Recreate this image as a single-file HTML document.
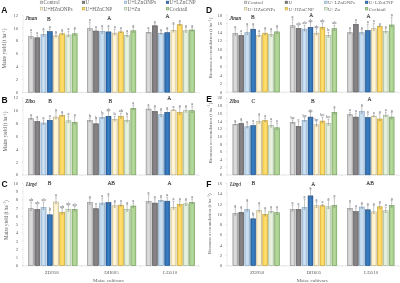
<!DOCTYPE html>
<html><head><meta charset="utf-8"><title>Figure</title>
<style>html,body{margin:0;padding:0;background:#fff;}body{width:400px;height:283px;overflow:hidden;font-family:"Liberation Serif",serif;}svg{display:block;will-change:transform;opacity:0.999}</style>
</head><body>
<svg width="400" height="283" viewBox="0 0 400 283">
<defs>
<linearGradient id="g0" x1="0" x2="1" y1="0" y2="0"><stop offset="0" stop-color="#c6c6c6"/><stop offset="0.5" stop-color="#dfdfdf"/><stop offset="1" stop-color="#c6c6c6"/></linearGradient>
<linearGradient id="g1" x1="0" x2="1" y1="0" y2="0"><stop offset="0" stop-color="#777577"/><stop offset="0.5" stop-color="#8a868a"/><stop offset="1" stop-color="#777577"/></linearGradient>
<linearGradient id="g2" x1="0" x2="1" y1="0" y2="0"><stop offset="0" stop-color="#b4d0e8"/><stop offset="0.5" stop-color="#cde2f2"/><stop offset="1" stop-color="#b4d0e8"/></linearGradient>
<linearGradient id="g3" x1="0" x2="1" y1="0" y2="0"><stop offset="0" stop-color="#2566ab"/><stop offset="0.5" stop-color="#3a80c4"/><stop offset="1" stop-color="#2566ab"/></linearGradient>
<linearGradient id="g4" x1="0" x2="1" y1="0" y2="0"><stop offset="0" stop-color="#fbecc0"/><stop offset="0.5" stop-color="#fff6dc"/><stop offset="1" stop-color="#fbecc0"/></linearGradient>
<linearGradient id="g5" x1="0" x2="1" y1="0" y2="0"><stop offset="0" stop-color="#fad04a"/><stop offset="0.5" stop-color="#ffdf74"/><stop offset="1" stop-color="#fad04a"/></linearGradient>
<linearGradient id="g6" x1="0" x2="1" y1="0" y2="0"><stop offset="0" stop-color="#d9e9cd"/><stop offset="0.5" stop-color="#eaf3e3"/><stop offset="1" stop-color="#d9e9cd"/></linearGradient>
<linearGradient id="g7" x1="0" x2="1" y1="0" y2="0"><stop offset="0" stop-color="#9fcb82"/><stop offset="0.5" stop-color="#b8d9a0"/><stop offset="1" stop-color="#9fcb82"/></linearGradient>
</defs>
<rect width="400" height="283" fill="#ffffff"/>
<line x1="23.0" y1="15.0" x2="23.0" y2="92.2" stroke="#d9d9d9" stroke-width="0.5"/>
<line x1="23.0" y1="92.4" x2="199.0" y2="92.4" stroke="#d4d4d4" stroke-width="0.6"/>
<line x1="23.00" y1="92.2" x2="23.00" y2="93.60000000000001" stroke="#d4d4d4" stroke-width="0.5"/>
<line x1="81.67" y1="92.2" x2="81.67" y2="93.60000000000001" stroke="#d4d4d4" stroke-width="0.5"/>
<line x1="140.33" y1="92.2" x2="140.33" y2="93.60000000000001" stroke="#d4d4d4" stroke-width="0.5"/>
<line x1="199.00" y1="92.2" x2="199.00" y2="93.60000000000001" stroke="#d4d4d4" stroke-width="0.5"/>
<line x1="21.7" y1="92.20" x2="23.0" y2="92.20" stroke="#cfcfcf" stroke-width="0.5"/>
<text x="18.2" y="93.85" text-anchor="end" font-size="4.8" fill="#636363" font-family="Liberation Serif, serif">0</text>
<line x1="21.7" y1="79.33" x2="23.0" y2="79.33" stroke="#cfcfcf" stroke-width="0.5"/>
<text x="18.2" y="80.98" text-anchor="end" font-size="4.8" fill="#636363" font-family="Liberation Serif, serif">2</text>
<line x1="21.7" y1="66.47" x2="23.0" y2="66.47" stroke="#cfcfcf" stroke-width="0.5"/>
<text x="18.2" y="68.12" text-anchor="end" font-size="4.8" fill="#636363" font-family="Liberation Serif, serif">4</text>
<line x1="21.7" y1="53.60" x2="23.0" y2="53.60" stroke="#cfcfcf" stroke-width="0.5"/>
<text x="18.2" y="55.25" text-anchor="end" font-size="4.8" fill="#636363" font-family="Liberation Serif, serif">6</text>
<line x1="21.7" y1="40.73" x2="23.0" y2="40.73" stroke="#cfcfcf" stroke-width="0.5"/>
<text x="18.2" y="42.38" text-anchor="end" font-size="4.8" fill="#636363" font-family="Liberation Serif, serif">8</text>
<line x1="21.7" y1="27.87" x2="23.0" y2="27.87" stroke="#cfcfcf" stroke-width="0.5"/>
<text x="18.2" y="29.52" text-anchor="end" font-size="4.8" fill="#636363" font-family="Liberation Serif, serif">10</text>
<line x1="21.7" y1="15.00" x2="23.0" y2="15.00" stroke="#cfcfcf" stroke-width="0.5"/>
<text x="18.2" y="16.65" text-anchor="end" font-size="4.8" fill="#636363" font-family="Liberation Serif, serif">12</text>
<text transform="translate(6.00,48.5) rotate(-90)" text-anchor="middle" font-size="5.1" fill="#636363" font-family="Liberation Serif, serif">Maize yield (t ha<tspan dy="-1.3" font-size="3.2">−1</tspan><tspan dy="1.3">)</tspan></text>
<rect x="28.60" y="36.70" width="5.00" height="55.50" fill="url(#g0)" stroke="#8e8e8e" stroke-width="0.6"/>
<path d="M31.10 38.40V32.10M30.10 32.10h2M30.10 38.40h2" stroke="#6e6e6e" stroke-width="0.4" fill="none"/>
<text x="31.10" y="31.20" text-anchor="middle" font-size="4.4" fill="#4a4c5a" font-family="Liberation Serif, serif">a</text>
<rect x="34.82" y="37.80" width="5.00" height="54.40" fill="url(#g1)" stroke="#585658" stroke-width="0.6"/>
<path d="M37.32 38.94V35.10M36.32 35.10h2M36.32 38.94h2" stroke="#6e6e6e" stroke-width="0.4" fill="none"/>
<text x="37.32" y="34.20" text-anchor="middle" font-size="4.4" fill="#4a4c5a" font-family="Liberation Serif, serif">a</text>
<rect x="41.04" y="34.60" width="5.00" height="57.60" fill="url(#g2)" stroke="#7f9fbe" stroke-width="0.6"/>
<path d="M43.54 36.30V30.80M42.54 30.80h2M42.54 36.30h2" stroke="#6e6e6e" stroke-width="0.4" fill="none"/>
<text x="43.54" y="29.90" text-anchor="middle" font-size="4.4" fill="#4a4c5a" font-family="Liberation Serif, serif">a</text>
<rect x="47.26" y="31.60" width="5.00" height="60.60" fill="url(#g3)" stroke="#1f4c84" stroke-width="0.6"/>
<path d="M49.76 32.68V29.00M48.76 29.00h2M48.76 32.68h2" stroke="#6e6e6e" stroke-width="0.4" fill="none"/>
<text x="49.76" y="28.10" text-anchor="middle" font-size="4.4" fill="#4a4c5a" font-family="Liberation Serif, serif">a</text>
<rect x="53.48" y="35.90" width="5.00" height="56.30" fill="url(#g4)" stroke="#b4aa82" stroke-width="0.6"/>
<path d="M55.98 36.86V33.50M54.98 33.50h2M54.98 36.86h2" stroke="#6e6e6e" stroke-width="0.4" fill="none"/>
<text x="55.98" y="32.60" text-anchor="middle" font-size="4.4" fill="#4a4c5a" font-family="Liberation Serif, serif">a</text>
<rect x="59.70" y="33.80" width="5.00" height="58.40" fill="url(#g5)" stroke="#b99b34" stroke-width="0.6"/>
<path d="M62.20 34.70V31.50M61.20 31.50h2M61.20 34.70h2" stroke="#6e6e6e" stroke-width="0.4" fill="none"/>
<text x="62.20" y="30.60" text-anchor="middle" font-size="4.4" fill="#4a4c5a" font-family="Liberation Serif, serif">a</text>
<rect x="65.92" y="35.10" width="5.00" height="57.10" fill="url(#g6)" stroke="#9bb08f" stroke-width="0.6"/>
<path d="M68.42 36.80V31.20M67.42 31.20h2M67.42 36.80h2" stroke="#6e6e6e" stroke-width="0.4" fill="none"/>
<text x="68.42" y="30.30" text-anchor="middle" font-size="4.4" fill="#4a4c5a" font-family="Liberation Serif, serif">a</text>
<rect x="72.14" y="33.80" width="5.00" height="58.40" fill="url(#g7)" stroke="#6f9957" stroke-width="0.6"/>
<path d="M74.64 35.50V29.40M73.64 29.40h2M73.64 35.50h2" stroke="#6e6e6e" stroke-width="0.4" fill="none"/>
<text x="74.64" y="28.50" text-anchor="middle" font-size="4.4" fill="#4a4c5a" font-family="Liberation Serif, serif">a</text>
<rect x="87.30" y="28.70" width="5.00" height="63.50" fill="url(#g0)" stroke="#8e8e8e" stroke-width="0.6"/>
<path d="M89.80 30.40V22.10M88.80 22.10h2M88.80 30.40h2" stroke="#6e6e6e" stroke-width="0.4" fill="none"/>
<text x="89.80" y="21.20" text-anchor="middle" font-size="4.4" fill="#4a4c5a" font-family="Liberation Serif, serif">a</text>
<rect x="93.52" y="31.10" width="5.00" height="61.10" fill="url(#g1)" stroke="#585658" stroke-width="0.6"/>
<path d="M96.02 31.82V29.10M95.02 29.10h2M95.02 31.82h2" stroke="#6e6e6e" stroke-width="0.4" fill="none"/>
<text x="96.02" y="28.20" text-anchor="middle" font-size="4.4" fill="#4a4c5a" font-family="Liberation Serif, serif">a</text>
<rect x="99.74" y="31.60" width="5.00" height="60.60" fill="url(#g2)" stroke="#7f9fbe" stroke-width="0.6"/>
<path d="M102.24 33.30V27.90M101.24 27.90h2M101.24 33.30h2" stroke="#6e6e6e" stroke-width="0.4" fill="none"/>
<text x="102.24" y="27.00" text-anchor="middle" font-size="4.4" fill="#4a4c5a" font-family="Liberation Serif, serif">a</text>
<rect x="105.96" y="31.90" width="5.00" height="60.30" fill="url(#g3)" stroke="#1f4c84" stroke-width="0.6"/>
<path d="M108.46 33.60V27.90M107.46 27.90h2M107.46 33.60h2" stroke="#6e6e6e" stroke-width="0.4" fill="none"/>
<text x="108.46" y="27.00" text-anchor="middle" font-size="4.4" fill="#4a4c5a" font-family="Liberation Serif, serif">a</text>
<rect x="112.18" y="33.20" width="5.00" height="59.00" fill="url(#g4)" stroke="#b4aa82" stroke-width="0.6"/>
<path d="M114.68 34.90V29.10M113.68 29.10h2M113.68 34.90h2" stroke="#6e6e6e" stroke-width="0.4" fill="none"/>
<text x="114.68" y="28.20" text-anchor="middle" font-size="4.4" fill="#4a4c5a" font-family="Liberation Serif, serif">a</text>
<rect x="118.40" y="31.90" width="5.00" height="60.30" fill="url(#g5)" stroke="#b99b34" stroke-width="0.6"/>
<path d="M120.90 32.62V29.90M119.90 29.90h2M119.90 32.62h2" stroke="#6e6e6e" stroke-width="0.4" fill="none"/>
<text x="120.90" y="29.00" text-anchor="middle" font-size="4.4" fill="#4a4c5a" font-family="Liberation Serif, serif">a</text>
<rect x="124.62" y="35.60" width="5.00" height="56.60" fill="url(#g6)" stroke="#9bb08f" stroke-width="0.6"/>
<path d="M127.12 36.74V32.90M126.12 32.90h2M126.12 36.74h2" stroke="#6e6e6e" stroke-width="0.4" fill="none"/>
<text x="127.12" y="32.00" text-anchor="middle" font-size="4.4" fill="#4a4c5a" font-family="Liberation Serif, serif">a</text>
<rect x="130.84" y="30.80" width="5.00" height="61.40" fill="url(#g7)" stroke="#6f9957" stroke-width="0.6"/>
<path d="M133.34 32.30V27.50M132.34 27.50h2M132.34 32.30h2" stroke="#6e6e6e" stroke-width="0.4" fill="none"/>
<text x="133.34" y="26.60" text-anchor="middle" font-size="4.4" fill="#4a4c5a" font-family="Liberation Serif, serif">a</text>
<rect x="146.10" y="32.40" width="5.00" height="59.80" fill="url(#g0)" stroke="#8e8e8e" stroke-width="0.6"/>
<path d="M148.60 33.42V29.90M147.60 29.90h2M147.60 33.42h2" stroke="#6e6e6e" stroke-width="0.4" fill="none"/>
<text x="148.60" y="29.00" text-anchor="middle" font-size="4.4" fill="#4a4c5a" font-family="Liberation Serif, serif">a</text>
<rect x="152.32" y="25.80" width="5.00" height="66.40" fill="url(#g1)" stroke="#585658" stroke-width="0.6"/>
<path d="M154.82 26.58V23.70M153.82 23.70h2M153.82 26.58h2" stroke="#6e6e6e" stroke-width="0.4" fill="none"/>
<text x="154.82" y="22.80" text-anchor="middle" font-size="4.4" fill="#4a4c5a" font-family="Liberation Serif, serif">a</text>
<rect x="158.54" y="33.50" width="5.00" height="58.70" fill="url(#g2)" stroke="#7f9fbe" stroke-width="0.6"/>
<path d="M161.04 34.04V31.80M160.04 31.80h2M160.04 34.04h2" stroke="#6e6e6e" stroke-width="0.4" fill="none"/>
<text x="161.04" y="30.90" text-anchor="middle" font-size="4.4" fill="#4a4c5a" font-family="Liberation Serif, serif">a</text>
<rect x="164.76" y="32.70" width="5.00" height="59.50" fill="url(#g3)" stroke="#1f4c84" stroke-width="0.6"/>
<path d="M167.26 34.14V29.50M166.26 29.50h2M166.26 34.14h2" stroke="#6e6e6e" stroke-width="0.4" fill="none"/>
<text x="167.26" y="28.60" text-anchor="middle" font-size="4.4" fill="#4a4c5a" font-family="Liberation Serif, serif">a</text>
<rect x="170.98" y="30.30" width="5.00" height="61.90" fill="url(#g4)" stroke="#b4aa82" stroke-width="0.6"/>
<path d="M173.48 32.00V24.50M172.48 24.50h2M172.48 32.00h2" stroke="#6e6e6e" stroke-width="0.4" fill="none"/>
<text x="173.48" y="23.60" text-anchor="middle" font-size="4.4" fill="#4a4c5a" font-family="Liberation Serif, serif">a</text>
<rect x="177.20" y="24.70" width="5.00" height="67.50" fill="url(#g5)" stroke="#b99b34" stroke-width="0.6"/>
<path d="M179.70 25.36V22.80M178.70 22.80h2M178.70 25.36h2" stroke="#6e6e6e" stroke-width="0.4" fill="none"/>
<text x="179.70" y="21.90" text-anchor="middle" font-size="4.4" fill="#4a4c5a" font-family="Liberation Serif, serif">a</text>
<rect x="183.42" y="30.80" width="5.00" height="61.40" fill="url(#g6)" stroke="#9bb08f" stroke-width="0.6"/>
<path d="M185.92 32.30V27.50M184.92 27.50h2M184.92 32.30h2" stroke="#6e6e6e" stroke-width="0.4" fill="none"/>
<text x="185.92" y="26.60" text-anchor="middle" font-size="4.4" fill="#4a4c5a" font-family="Liberation Serif, serif">a</text>
<rect x="189.64" y="30.00" width="5.00" height="62.20" fill="url(#g7)" stroke="#6f9957" stroke-width="0.6"/>
<path d="M192.14 31.02V27.50M191.14 27.50h2M191.14 31.02h2" stroke="#6e6e6e" stroke-width="0.4" fill="none"/>
<text x="192.14" y="26.60" text-anchor="middle" font-size="4.4" fill="#4a4c5a" font-family="Liberation Serif, serif">a</text>
<text x="25.3" y="20.0" font-size="5.3" font-style="italic" fill="#2a2a2a" stroke="#2a2a2a" stroke-width="0.12" font-family="Liberation Serif, serif">Jinan</text>
<text x="48.8" y="20.8" text-anchor="middle" font-size="5.5" fill="#2a2a2a" stroke="#2a2a2a" stroke-width="0.1" font-family="Liberation Serif, serif">B</text>
<text x="109.3" y="19.9" text-anchor="middle" font-size="5.5" fill="#2a2a2a" stroke="#2a2a2a" stroke-width="0.1" font-family="Liberation Serif, serif">A</text>
<text x="167.6" y="17.6" text-anchor="middle" font-size="5.5" fill="#2a2a2a" stroke="#2a2a2a" stroke-width="0.1" font-family="Liberation Serif, serif">A</text>
<text x="1.3" y="13.0" font-size="8.5" font-weight="bold" fill="#111" font-family="Liberation Sans, sans-serif">A</text>
<line x1="23.0" y1="97.8" x2="23.0" y2="174.8" stroke="#d9d9d9" stroke-width="0.5"/>
<line x1="23.0" y1="175.0" x2="199.0" y2="175.0" stroke="#d4d4d4" stroke-width="0.6"/>
<line x1="23.00" y1="174.8" x2="23.00" y2="176.20000000000002" stroke="#d4d4d4" stroke-width="0.5"/>
<line x1="81.67" y1="174.8" x2="81.67" y2="176.20000000000002" stroke="#d4d4d4" stroke-width="0.5"/>
<line x1="140.33" y1="174.8" x2="140.33" y2="176.20000000000002" stroke="#d4d4d4" stroke-width="0.5"/>
<line x1="199.00" y1="174.8" x2="199.00" y2="176.20000000000002" stroke="#d4d4d4" stroke-width="0.5"/>
<line x1="21.7" y1="174.80" x2="23.0" y2="174.80" stroke="#cfcfcf" stroke-width="0.5"/>
<text x="18.2" y="176.45" text-anchor="end" font-size="4.8" fill="#636363" font-family="Liberation Serif, serif">0</text>
<line x1="21.7" y1="161.97" x2="23.0" y2="161.97" stroke="#cfcfcf" stroke-width="0.5"/>
<text x="18.2" y="163.62" text-anchor="end" font-size="4.8" fill="#636363" font-family="Liberation Serif, serif">2</text>
<line x1="21.7" y1="149.13" x2="23.0" y2="149.13" stroke="#cfcfcf" stroke-width="0.5"/>
<text x="18.2" y="150.78" text-anchor="end" font-size="4.8" fill="#636363" font-family="Liberation Serif, serif">4</text>
<line x1="21.7" y1="136.30" x2="23.0" y2="136.30" stroke="#cfcfcf" stroke-width="0.5"/>
<text x="18.2" y="137.95" text-anchor="end" font-size="4.8" fill="#636363" font-family="Liberation Serif, serif">6</text>
<line x1="21.7" y1="123.47" x2="23.0" y2="123.47" stroke="#cfcfcf" stroke-width="0.5"/>
<text x="18.2" y="125.12" text-anchor="end" font-size="4.8" fill="#636363" font-family="Liberation Serif, serif">8</text>
<line x1="21.7" y1="110.63" x2="23.0" y2="110.63" stroke="#cfcfcf" stroke-width="0.5"/>
<text x="18.2" y="112.28" text-anchor="end" font-size="4.8" fill="#636363" font-family="Liberation Serif, serif">10</text>
<line x1="21.7" y1="97.80" x2="23.0" y2="97.80" stroke="#cfcfcf" stroke-width="0.5"/>
<text x="18.2" y="99.45" text-anchor="end" font-size="4.8" fill="#636363" font-family="Liberation Serif, serif">12</text>
<text transform="translate(7.00,131.5) rotate(-90)" text-anchor="middle" font-size="5.1" fill="#636363" font-family="Liberation Serif, serif">Maize yield (t ha<tspan dy="-1.3" font-size="3.2">−1</tspan><tspan dy="1.3">)</tspan></text>
<rect x="28.60" y="118.70" width="5.00" height="56.10" fill="url(#g0)" stroke="#8e8e8e" stroke-width="0.6"/>
<path d="M31.10 119.36V116.80M30.10 116.80h2M30.10 119.36h2" stroke="#6e6e6e" stroke-width="0.4" fill="none"/>
<text x="31.10" y="115.90" text-anchor="middle" font-size="4.4" fill="#4a4c5a" font-family="Liberation Serif, serif">a</text>
<rect x="34.82" y="121.60" width="5.00" height="53.20" fill="url(#g1)" stroke="#585658" stroke-width="0.6"/>
<path d="M37.32 122.80V118.80M36.32 118.80h2M36.32 122.80h2" stroke="#6e6e6e" stroke-width="0.4" fill="none"/>
<text x="37.32" y="117.90" text-anchor="middle" font-size="4.4" fill="#4a4c5a" font-family="Liberation Serif, serif">a</text>
<rect x="41.04" y="123.00" width="5.00" height="51.80" fill="url(#g2)" stroke="#7f9fbe" stroke-width="0.6"/>
<path d="M43.54 124.38V119.90M42.54 119.90h2M42.54 124.38h2" stroke="#6e6e6e" stroke-width="0.4" fill="none"/>
<text x="43.54" y="119.00" text-anchor="middle" font-size="4.4" fill="#4a4c5a" font-family="Liberation Serif, serif">a</text>
<rect x="47.26" y="120.30" width="5.00" height="54.50" fill="url(#g3)" stroke="#1f4c84" stroke-width="0.6"/>
<path d="M49.76 121.08V118.20M48.76 118.20h2M48.76 121.08h2" stroke="#6e6e6e" stroke-width="0.4" fill="none"/>
<text x="49.76" y="117.30" text-anchor="middle" font-size="4.4" fill="#4a4c5a" font-family="Liberation Serif, serif">a</text>
<rect x="53.48" y="117.10" width="5.00" height="57.70" fill="url(#g4)" stroke="#b4aa82" stroke-width="0.6"/>
<path d="M55.98 118.80V111.70M54.98 111.70h2M54.98 118.80h2" stroke="#6e6e6e" stroke-width="0.4" fill="none"/>
<text x="55.98" y="110.80" text-anchor="middle" font-size="4.4" fill="#4a4c5a" font-family="Liberation Serif, serif">a</text>
<rect x="59.70" y="115.50" width="5.00" height="59.30" fill="url(#g5)" stroke="#b99b34" stroke-width="0.6"/>
<path d="M62.20 116.28V113.40M61.20 113.40h2M61.20 116.28h2" stroke="#6e6e6e" stroke-width="0.4" fill="none"/>
<text x="62.20" y="112.50" text-anchor="middle" font-size="4.4" fill="#4a4c5a" font-family="Liberation Serif, serif">a</text>
<rect x="65.92" y="120.80" width="5.00" height="54.00" fill="url(#g6)" stroke="#9bb08f" stroke-width="0.6"/>
<path d="M68.42 122.50V116.10M67.42 116.10h2M67.42 122.50h2" stroke="#6e6e6e" stroke-width="0.4" fill="none"/>
<text x="68.42" y="115.20" text-anchor="middle" font-size="4.4" fill="#4a4c5a" font-family="Liberation Serif, serif">a</text>
<rect x="72.14" y="122.40" width="5.00" height="52.40" fill="url(#g7)" stroke="#6f9957" stroke-width="0.6"/>
<path d="M74.64 124.10V116.80M73.64 116.80h2M73.64 124.10h2" stroke="#6e6e6e" stroke-width="0.4" fill="none"/>
<text x="74.64" y="115.90" text-anchor="middle" font-size="4.4" fill="#4a4c5a" font-family="Liberation Serif, serif">a</text>
<rect x="87.30" y="120.60" width="5.00" height="54.20" fill="url(#g0)" stroke="#8e8e8e" stroke-width="0.6"/>
<path d="M89.80 121.74V117.90M88.80 117.90h2M88.80 121.74h2" stroke="#6e6e6e" stroke-width="0.4" fill="none"/>
<text x="89.80" y="117.00" text-anchor="middle" font-size="4.4" fill="#4a4c5a" font-family="Liberation Serif, serif">b</text>
<rect x="93.52" y="123.80" width="5.00" height="51.00" fill="url(#g1)" stroke="#585658" stroke-width="0.6"/>
<path d="M96.02 125.50V119.80M95.02 119.80h2M95.02 125.50h2" stroke="#6e6e6e" stroke-width="0.4" fill="none"/>
<text x="96.02" y="118.90" text-anchor="middle" font-size="4.4" fill="#4a4c5a" font-family="Liberation Serif, serif">b</text>
<rect x="99.74" y="117.40" width="5.00" height="57.40" fill="url(#g2)" stroke="#7f9fbe" stroke-width="0.6"/>
<path d="M102.24 118.48V114.80M101.24 114.80h2M101.24 118.48h2" stroke="#6e6e6e" stroke-width="0.4" fill="none"/>
<text x="102.24" y="113.90" text-anchor="middle" font-size="4.4" fill="#4a4c5a" font-family="Liberation Serif, serif">b</text>
<rect x="105.96" y="116.30" width="5.00" height="58.50" fill="url(#g3)" stroke="#1f4c84" stroke-width="0.6"/>
<path d="M108.46 118.00V111.50M107.46 111.50h2M107.46 118.00h2" stroke="#6e6e6e" stroke-width="0.4" fill="none"/>
<text x="108.46" y="110.60" text-anchor="middle" font-size="4.4" fill="#4a4c5a" font-family="Liberation Serif, serif">ab</text>
<rect x="112.18" y="119.50" width="5.00" height="55.30" fill="url(#g4)" stroke="#b4aa82" stroke-width="0.6"/>
<path d="M114.68 121.00V116.20M113.68 116.20h2M113.68 121.00h2" stroke="#6e6e6e" stroke-width="0.4" fill="none"/>
<text x="114.68" y="115.30" text-anchor="middle" font-size="4.4" fill="#4a4c5a" font-family="Liberation Serif, serif">b</text>
<rect x="118.40" y="116.60" width="5.00" height="58.20" fill="url(#g5)" stroke="#b99b34" stroke-width="0.6"/>
<path d="M120.90 118.22V113.10M119.90 113.10h2M119.90 118.22h2" stroke="#6e6e6e" stroke-width="0.4" fill="none"/>
<text x="120.90" y="112.20" text-anchor="middle" font-size="4.4" fill="#4a4c5a" font-family="Liberation Serif, serif">ab</text>
<rect x="124.62" y="120.30" width="5.00" height="54.50" fill="url(#g6)" stroke="#9bb08f" stroke-width="0.6"/>
<path d="M127.12 122.00V116.20M126.12 116.20h2M126.12 122.00h2" stroke="#6e6e6e" stroke-width="0.4" fill="none"/>
<text x="127.12" y="115.30" text-anchor="middle" font-size="4.4" fill="#4a4c5a" font-family="Liberation Serif, serif">b</text>
<rect x="130.84" y="108.30" width="5.00" height="66.50" fill="url(#g7)" stroke="#6f9957" stroke-width="0.6"/>
<path d="M133.34 109.80V105.00M132.34 105.00h2M132.34 109.80h2" stroke="#6e6e6e" stroke-width="0.4" fill="none"/>
<text x="133.34" y="104.10" text-anchor="middle" font-size="4.4" fill="#4a4c5a" font-family="Liberation Serif, serif">a</text>
<rect x="146.10" y="109.10" width="5.00" height="65.70" fill="url(#g0)" stroke="#8e8e8e" stroke-width="0.6"/>
<path d="M148.60 110.00V106.80M147.60 106.80h2M147.60 110.00h2" stroke="#6e6e6e" stroke-width="0.4" fill="none"/>
<text x="148.60" y="105.90" text-anchor="middle" font-size="4.4" fill="#4a4c5a" font-family="Liberation Serif, serif">a</text>
<rect x="152.32" y="111.50" width="5.00" height="63.30" fill="url(#g1)" stroke="#585658" stroke-width="0.6"/>
<path d="M154.82 113.20V107.70M153.82 107.70h2M153.82 113.20h2" stroke="#6e6e6e" stroke-width="0.4" fill="none"/>
<text x="154.82" y="106.80" text-anchor="middle" font-size="4.4" fill="#4a4c5a" font-family="Liberation Serif, serif">a</text>
<rect x="158.54" y="114.70" width="5.00" height="60.10" fill="url(#g2)" stroke="#7f9fbe" stroke-width="0.6"/>
<path d="M161.04 116.40V110.40M160.04 110.40h2M160.04 116.40h2" stroke="#6e6e6e" stroke-width="0.4" fill="none"/>
<text x="161.04" y="109.50" text-anchor="middle" font-size="4.4" fill="#4a4c5a" font-family="Liberation Serif, serif">a</text>
<rect x="164.76" y="112.30" width="5.00" height="62.50" fill="url(#g3)" stroke="#1f4c84" stroke-width="0.6"/>
<path d="M167.26 113.50V109.50M166.26 109.50h2M166.26 113.50h2" stroke="#6e6e6e" stroke-width="0.4" fill="none"/>
<text x="167.26" y="108.60" text-anchor="middle" font-size="4.4" fill="#4a4c5a" font-family="Liberation Serif, serif">a</text>
<rect x="170.98" y="110.20" width="5.00" height="64.60" fill="url(#g4)" stroke="#b4aa82" stroke-width="0.6"/>
<path d="M173.48 110.26V109.30M172.48 109.30h2M172.48 110.26h2" stroke="#6e6e6e" stroke-width="0.4" fill="none"/>
<text x="173.48" y="108.40" text-anchor="middle" font-size="4.4" fill="#4a4c5a" font-family="Liberation Serif, serif">a</text>
<rect x="177.20" y="112.60" width="5.00" height="62.20" fill="url(#g5)" stroke="#b99b34" stroke-width="0.6"/>
<path d="M179.70 114.30V107.50M178.70 107.50h2M178.70 114.30h2" stroke="#6e6e6e" stroke-width="0.4" fill="none"/>
<text x="179.70" y="106.60" text-anchor="middle" font-size="4.4" fill="#4a4c5a" font-family="Liberation Serif, serif">a</text>
<rect x="183.42" y="110.70" width="5.00" height="64.10" fill="url(#g6)" stroke="#9bb08f" stroke-width="0.6"/>
<path d="M185.92 112.14V107.50M184.92 107.50h2M184.92 112.14h2" stroke="#6e6e6e" stroke-width="0.4" fill="none"/>
<text x="185.92" y="106.60" text-anchor="middle" font-size="4.4" fill="#4a4c5a" font-family="Liberation Serif, serif">a</text>
<rect x="189.64" y="110.70" width="5.00" height="64.10" fill="url(#g7)" stroke="#6f9957" stroke-width="0.6"/>
<path d="M192.14 112.40V106.10M191.14 106.10h2M191.14 112.40h2" stroke="#6e6e6e" stroke-width="0.4" fill="none"/>
<text x="192.14" y="105.20" text-anchor="middle" font-size="4.4" fill="#4a4c5a" font-family="Liberation Serif, serif">a</text>
<text x="25.3" y="102.6" font-size="5.3" font-style="italic" fill="#2a2a2a" stroke="#2a2a2a" stroke-width="0.12" font-family="Liberation Serif, serif">Zibo</text>
<text x="50" y="103.0" text-anchor="middle" font-size="5.5" fill="#2a2a2a" stroke="#2a2a2a" stroke-width="0.1" font-family="Liberation Serif, serif">B</text>
<text x="110.4" y="103.0" text-anchor="middle" font-size="5.5" fill="#2a2a2a" stroke="#2a2a2a" stroke-width="0.1" font-family="Liberation Serif, serif">B</text>
<text x="169.2" y="100.4" text-anchor="middle" font-size="5.5" fill="#2a2a2a" stroke="#2a2a2a" stroke-width="0.1" font-family="Liberation Serif, serif">A</text>
<text x="1.6" y="102.5" font-size="8.5" font-weight="bold" fill="#111" font-family="Liberation Sans, sans-serif">B</text>
<line x1="23.0" y1="183.4" x2="23.0" y2="265.6" stroke="#d9d9d9" stroke-width="0.5"/>
<line x1="23.0" y1="265.8" x2="199.0" y2="265.8" stroke="#d4d4d4" stroke-width="0.6"/>
<line x1="23.00" y1="265.6" x2="23.00" y2="267.0" stroke="#d4d4d4" stroke-width="0.5"/>
<line x1="81.67" y1="265.6" x2="81.67" y2="267.0" stroke="#d4d4d4" stroke-width="0.5"/>
<line x1="140.33" y1="265.6" x2="140.33" y2="267.0" stroke="#d4d4d4" stroke-width="0.5"/>
<line x1="199.00" y1="265.6" x2="199.00" y2="267.0" stroke="#d4d4d4" stroke-width="0.5"/>
<line x1="21.7" y1="265.60" x2="23.0" y2="265.60" stroke="#cfcfcf" stroke-width="0.5"/>
<text x="18.2" y="267.25" text-anchor="end" font-size="4.8" fill="#636363" font-family="Liberation Serif, serif">0</text>
<line x1="21.7" y1="257.38" x2="23.0" y2="257.38" stroke="#cfcfcf" stroke-width="0.5"/>
<text x="18.2" y="259.03" text-anchor="end" font-size="4.8" fill="#636363" font-family="Liberation Serif, serif">1</text>
<line x1="21.7" y1="249.16" x2="23.0" y2="249.16" stroke="#cfcfcf" stroke-width="0.5"/>
<text x="18.2" y="250.81" text-anchor="end" font-size="4.8" fill="#636363" font-family="Liberation Serif, serif">2</text>
<line x1="21.7" y1="240.94" x2="23.0" y2="240.94" stroke="#cfcfcf" stroke-width="0.5"/>
<text x="18.2" y="242.59" text-anchor="end" font-size="4.8" fill="#636363" font-family="Liberation Serif, serif">3</text>
<line x1="21.7" y1="232.72" x2="23.0" y2="232.72" stroke="#cfcfcf" stroke-width="0.5"/>
<text x="18.2" y="234.37" text-anchor="end" font-size="4.8" fill="#636363" font-family="Liberation Serif, serif">4</text>
<line x1="21.7" y1="224.50" x2="23.0" y2="224.50" stroke="#cfcfcf" stroke-width="0.5"/>
<text x="18.2" y="226.15" text-anchor="end" font-size="4.8" fill="#636363" font-family="Liberation Serif, serif">5</text>
<line x1="21.7" y1="216.28" x2="23.0" y2="216.28" stroke="#cfcfcf" stroke-width="0.5"/>
<text x="18.2" y="217.93" text-anchor="end" font-size="4.8" fill="#636363" font-family="Liberation Serif, serif">6</text>
<line x1="21.7" y1="208.06" x2="23.0" y2="208.06" stroke="#cfcfcf" stroke-width="0.5"/>
<text x="18.2" y="209.71" text-anchor="end" font-size="4.8" fill="#636363" font-family="Liberation Serif, serif">7</text>
<line x1="21.7" y1="199.84" x2="23.0" y2="199.84" stroke="#cfcfcf" stroke-width="0.5"/>
<text x="18.2" y="201.49" text-anchor="end" font-size="4.8" fill="#636363" font-family="Liberation Serif, serif">8</text>
<line x1="21.7" y1="191.62" x2="23.0" y2="191.62" stroke="#cfcfcf" stroke-width="0.5"/>
<text x="18.2" y="193.27" text-anchor="end" font-size="4.8" fill="#636363" font-family="Liberation Serif, serif">9</text>
<line x1="21.7" y1="183.40" x2="23.0" y2="183.40" stroke="#cfcfcf" stroke-width="0.5"/>
<text x="18.2" y="185.05" text-anchor="end" font-size="4.8" fill="#636363" font-family="Liberation Serif, serif">10</text>
<text transform="translate(7.70,220.2) rotate(-90)" text-anchor="middle" font-size="5.1" fill="#636363" font-family="Liberation Serif, serif">Maize yield (t ha<tspan dy="-1.3" font-size="3.2">−1</tspan><tspan dy="1.3">)</tspan></text>
<rect x="28.60" y="208.70" width="5.00" height="56.90" fill="url(#g0)" stroke="#8e8e8e" stroke-width="0.6"/>
<path d="M31.10 210.40V202.10M30.10 202.10h2M30.10 210.40h2" stroke="#6e6e6e" stroke-width="0.4" fill="none"/>
<text x="31.10" y="201.20" text-anchor="middle" font-size="4.4" fill="#4a4c5a" font-family="Liberation Serif, serif">ab</text>
<rect x="34.82" y="209.50" width="5.00" height="56.10" fill="url(#g1)" stroke="#585658" stroke-width="0.6"/>
<path d="M37.32 211.20V204.80M36.32 204.80h2M36.32 211.20h2" stroke="#6e6e6e" stroke-width="0.4" fill="none"/>
<text x="37.32" y="203.90" text-anchor="middle" font-size="4.4" fill="#4a4c5a" font-family="Liberation Serif, serif">ab</text>
<rect x="41.04" y="207.60" width="5.00" height="58.00" fill="url(#g2)" stroke="#7f9fbe" stroke-width="0.6"/>
<path d="M43.54 209.30V202.10M42.54 202.10h2M42.54 209.30h2" stroke="#6e6e6e" stroke-width="0.4" fill="none"/>
<text x="43.54" y="201.20" text-anchor="middle" font-size="4.4" fill="#4a4c5a" font-family="Liberation Serif, serif">ab</text>
<rect x="47.26" y="214.80" width="5.00" height="50.80" fill="url(#g3)" stroke="#1f4c84" stroke-width="0.6"/>
<path d="M49.76 216.50V210.50M48.76 210.50h2M48.76 216.50h2" stroke="#6e6e6e" stroke-width="0.4" fill="none"/>
<text x="49.76" y="209.60" text-anchor="middle" font-size="4.4" fill="#4a4c5a" font-family="Liberation Serif, serif">b</text>
<rect x="53.48" y="202.00" width="5.00" height="63.60" fill="url(#g4)" stroke="#b4aa82" stroke-width="0.6"/>
<path d="M55.98 203.70V197.10M54.98 197.10h2M54.98 203.70h2" stroke="#6e6e6e" stroke-width="0.4" fill="none"/>
<text x="55.98" y="196.20" text-anchor="middle" font-size="4.4" fill="#4a4c5a" font-family="Liberation Serif, serif">a</text>
<rect x="59.70" y="212.40" width="5.00" height="53.20" fill="url(#g5)" stroke="#b99b34" stroke-width="0.6"/>
<path d="M62.20 214.10V208.50M61.20 208.50h2M61.20 214.10h2" stroke="#6e6e6e" stroke-width="0.4" fill="none"/>
<text x="62.20" y="207.60" text-anchor="middle" font-size="4.4" fill="#4a4c5a" font-family="Liberation Serif, serif">ab</text>
<rect x="65.92" y="209.50" width="5.00" height="56.10" fill="url(#g6)" stroke="#9bb08f" stroke-width="0.6"/>
<path d="M68.42 211.20V205.50M67.42 205.50h2M67.42 211.20h2" stroke="#6e6e6e" stroke-width="0.4" fill="none"/>
<text x="68.42" y="204.60" text-anchor="middle" font-size="4.4" fill="#4a4c5a" font-family="Liberation Serif, serif">ab</text>
<rect x="72.14" y="209.50" width="5.00" height="56.10" fill="url(#g7)" stroke="#6f9957" stroke-width="0.6"/>
<path d="M74.64 210.82V206.50M73.64 206.50h2M73.64 210.82h2" stroke="#6e6e6e" stroke-width="0.4" fill="none"/>
<text x="74.64" y="205.60" text-anchor="middle" font-size="4.4" fill="#4a4c5a" font-family="Liberation Serif, serif">ab</text>
<rect x="87.30" y="202.60" width="5.00" height="63.00" fill="url(#g0)" stroke="#8e8e8e" stroke-width="0.6"/>
<path d="M89.80 204.30V198.40M88.80 198.40h2M88.80 204.30h2" stroke="#6e6e6e" stroke-width="0.4" fill="none"/>
<text x="89.80" y="197.50" text-anchor="middle" font-size="4.4" fill="#4a4c5a" font-family="Liberation Serif, serif">a</text>
<rect x="93.52" y="208.70" width="5.00" height="56.90" fill="url(#g1)" stroke="#585658" stroke-width="0.6"/>
<path d="M96.02 209.72V206.20M95.02 206.20h2M95.02 209.72h2" stroke="#6e6e6e" stroke-width="0.4" fill="none"/>
<text x="96.02" y="205.30" text-anchor="middle" font-size="4.4" fill="#4a4c5a" font-family="Liberation Serif, serif">a</text>
<rect x="99.74" y="203.10" width="5.00" height="62.50" fill="url(#g2)" stroke="#7f9fbe" stroke-width="0.6"/>
<path d="M102.24 204.80V198.10M101.24 198.10h2M101.24 204.80h2" stroke="#6e6e6e" stroke-width="0.4" fill="none"/>
<text x="102.24" y="197.20" text-anchor="middle" font-size="4.4" fill="#4a4c5a" font-family="Liberation Serif, serif">a</text>
<rect x="105.96" y="202.60" width="5.00" height="63.00" fill="url(#g3)" stroke="#1f4c84" stroke-width="0.6"/>
<path d="M108.46 204.30V195.70M107.46 195.70h2M107.46 204.30h2" stroke="#6e6e6e" stroke-width="0.4" fill="none"/>
<text x="108.46" y="194.80" text-anchor="middle" font-size="4.4" fill="#4a4c5a" font-family="Liberation Serif, serif">a</text>
<rect x="112.18" y="205.80" width="5.00" height="59.80" fill="url(#g4)" stroke="#b4aa82" stroke-width="0.6"/>
<path d="M114.68 207.36V202.40M113.68 202.40h2M113.68 207.36h2" stroke="#6e6e6e" stroke-width="0.4" fill="none"/>
<text x="114.68" y="201.50" text-anchor="middle" font-size="4.4" fill="#4a4c5a" font-family="Liberation Serif, serif">a</text>
<rect x="118.40" y="205.20" width="5.00" height="60.40" fill="url(#g5)" stroke="#b99b34" stroke-width="0.6"/>
<path d="M120.90 205.98V203.10M119.90 203.10h2M119.90 205.98h2" stroke="#6e6e6e" stroke-width="0.4" fill="none"/>
<text x="120.90" y="202.20" text-anchor="middle" font-size="4.4" fill="#4a4c5a" font-family="Liberation Serif, serif">a</text>
<rect x="124.62" y="209.50" width="5.00" height="56.10" fill="url(#g6)" stroke="#9bb08f" stroke-width="0.6"/>
<path d="M127.12 211.20V204.60M126.12 204.60h2M126.12 211.20h2" stroke="#6e6e6e" stroke-width="0.4" fill="none"/>
<text x="127.12" y="203.70" text-anchor="middle" font-size="4.4" fill="#4a4c5a" font-family="Liberation Serif, serif">a</text>
<rect x="130.84" y="206.00" width="5.00" height="59.60" fill="url(#g7)" stroke="#6f9957" stroke-width="0.6"/>
<path d="M133.34 207.26V203.10M132.34 203.10h2M132.34 207.26h2" stroke="#6e6e6e" stroke-width="0.4" fill="none"/>
<text x="133.34" y="202.20" text-anchor="middle" font-size="4.4" fill="#4a4c5a" font-family="Liberation Serif, serif">a</text>
<rect x="146.10" y="201.50" width="5.00" height="64.10" fill="url(#g0)" stroke="#8e8e8e" stroke-width="0.6"/>
<path d="M148.60 203.20V194.80M147.60 194.80h2M147.60 203.20h2" stroke="#6e6e6e" stroke-width="0.4" fill="none"/>
<text x="148.60" y="193.90" text-anchor="middle" font-size="4.4" fill="#4a4c5a" font-family="Liberation Serif, serif">a</text>
<rect x="152.32" y="203.10" width="5.00" height="62.50" fill="url(#g1)" stroke="#585658" stroke-width="0.6"/>
<path d="M154.82 204.80V198.80M153.82 198.80h2M153.82 204.80h2" stroke="#6e6e6e" stroke-width="0.4" fill="none"/>
<text x="154.82" y="197.90" text-anchor="middle" font-size="4.4" fill="#4a4c5a" font-family="Liberation Serif, serif">a</text>
<rect x="158.54" y="200.40" width="5.00" height="65.20" fill="url(#g2)" stroke="#7f9fbe" stroke-width="0.6"/>
<path d="M161.04 201.66V197.50M160.04 197.50h2M160.04 201.66h2" stroke="#6e6e6e" stroke-width="0.4" fill="none"/>
<text x="161.04" y="196.60" text-anchor="middle" font-size="4.4" fill="#4a4c5a" font-family="Liberation Serif, serif">a</text>
<rect x="164.76" y="201.20" width="5.00" height="64.40" fill="url(#g3)" stroke="#1f4c84" stroke-width="0.6"/>
<path d="M167.26 202.90V197.20M166.26 197.20h2M166.26 202.90h2" stroke="#6e6e6e" stroke-width="0.4" fill="none"/>
<text x="167.26" y="196.30" text-anchor="middle" font-size="4.4" fill="#4a4c5a" font-family="Liberation Serif, serif">a</text>
<rect x="170.98" y="207.60" width="5.00" height="58.00" fill="url(#g4)" stroke="#b4aa82" stroke-width="0.6"/>
<path d="M173.48 209.30V201.10M172.48 201.10h2M172.48 209.30h2" stroke="#6e6e6e" stroke-width="0.4" fill="none"/>
<text x="173.48" y="200.20" text-anchor="middle" font-size="4.4" fill="#4a4c5a" font-family="Liberation Serif, serif">a</text>
<rect x="177.20" y="204.40" width="5.00" height="61.20" fill="url(#g5)" stroke="#b99b34" stroke-width="0.6"/>
<path d="M179.70 206.08V200.80M178.70 200.80h2M178.70 206.08h2" stroke="#6e6e6e" stroke-width="0.4" fill="none"/>
<text x="179.70" y="199.90" text-anchor="middle" font-size="4.4" fill="#4a4c5a" font-family="Liberation Serif, serif">a</text>
<rect x="183.42" y="203.90" width="5.00" height="61.70" fill="url(#g6)" stroke="#9bb08f" stroke-width="0.6"/>
<path d="M185.92 205.52V200.40M184.92 200.40h2M184.92 205.52h2" stroke="#6e6e6e" stroke-width="0.4" fill="none"/>
<text x="185.92" y="199.50" text-anchor="middle" font-size="4.4" fill="#4a4c5a" font-family="Liberation Serif, serif">a</text>
<rect x="189.64" y="202.30" width="5.00" height="63.30" fill="url(#g7)" stroke="#6f9957" stroke-width="0.6"/>
<path d="M192.14 203.74V199.10M191.14 199.10h2M191.14 203.74h2" stroke="#6e6e6e" stroke-width="0.4" fill="none"/>
<text x="192.14" y="198.20" text-anchor="middle" font-size="4.4" fill="#4a4c5a" font-family="Liberation Serif, serif">a</text>
<text x="25.900000000000002" y="186.3" font-size="5.3" font-style="italic" fill="#2a2a2a" stroke="#2a2a2a" stroke-width="0.12" font-family="Liberation Serif, serif">Linyi</text>
<text x="49.6" y="184.5" text-anchor="middle" font-size="5.5" fill="#2a2a2a" stroke="#2a2a2a" stroke-width="0.1" font-family="Liberation Serif, serif">B</text>
<text x="111.2" y="184.5" text-anchor="middle" font-size="5.5" fill="#2a2a2a" stroke="#2a2a2a" stroke-width="0.1" font-family="Liberation Serif, serif">AB</text>
<text x="169.5" y="185.0" text-anchor="middle" font-size="5.5" fill="#2a2a2a" stroke="#2a2a2a" stroke-width="0.1" font-family="Liberation Serif, serif">A</text>
<text x="1.5" y="187.4" font-size="8.5" font-weight="bold" fill="#111" font-family="Liberation Sans, sans-serif">C</text>
<line x1="227.0" y1="15.0" x2="227.0" y2="92.0" stroke="#d9d9d9" stroke-width="0.5"/>
<line x1="227.0" y1="92.2" x2="399.0" y2="92.2" stroke="#d4d4d4" stroke-width="0.6"/>
<line x1="227.00" y1="92.0" x2="227.00" y2="93.4" stroke="#d4d4d4" stroke-width="0.5"/>
<line x1="284.33" y1="92.0" x2="284.33" y2="93.4" stroke="#d4d4d4" stroke-width="0.5"/>
<line x1="341.67" y1="92.0" x2="341.67" y2="93.4" stroke="#d4d4d4" stroke-width="0.5"/>
<line x1="399.00" y1="92.0" x2="399.00" y2="93.4" stroke="#d4d4d4" stroke-width="0.5"/>
<line x1="225.7" y1="92.00" x2="227.0" y2="92.00" stroke="#cfcfcf" stroke-width="0.5"/>
<text x="222.2" y="93.65" text-anchor="end" font-size="4.8" fill="#636363" font-family="Liberation Serif, serif">0</text>
<line x1="225.7" y1="83.44" x2="227.0" y2="83.44" stroke="#cfcfcf" stroke-width="0.5"/>
<text x="222.2" y="85.09" text-anchor="end" font-size="4.8" fill="#636363" font-family="Liberation Serif, serif">2</text>
<line x1="225.7" y1="74.89" x2="227.0" y2="74.89" stroke="#cfcfcf" stroke-width="0.5"/>
<text x="222.2" y="76.54" text-anchor="end" font-size="4.8" fill="#636363" font-family="Liberation Serif, serif">4</text>
<line x1="225.7" y1="66.33" x2="227.0" y2="66.33" stroke="#cfcfcf" stroke-width="0.5"/>
<text x="222.2" y="67.98" text-anchor="end" font-size="4.8" fill="#636363" font-family="Liberation Serif, serif">6</text>
<line x1="225.7" y1="57.78" x2="227.0" y2="57.78" stroke="#cfcfcf" stroke-width="0.5"/>
<text x="222.2" y="59.43" text-anchor="end" font-size="4.8" fill="#636363" font-family="Liberation Serif, serif">8</text>
<line x1="225.7" y1="49.22" x2="227.0" y2="49.22" stroke="#cfcfcf" stroke-width="0.5"/>
<text x="222.2" y="50.87" text-anchor="end" font-size="4.8" fill="#636363" font-family="Liberation Serif, serif">10</text>
<line x1="225.7" y1="40.67" x2="227.0" y2="40.67" stroke="#cfcfcf" stroke-width="0.5"/>
<text x="222.2" y="42.32" text-anchor="end" font-size="4.8" fill="#636363" font-family="Liberation Serif, serif">12</text>
<line x1="225.7" y1="32.11" x2="227.0" y2="32.11" stroke="#cfcfcf" stroke-width="0.5"/>
<text x="222.2" y="33.76" text-anchor="end" font-size="4.8" fill="#636363" font-family="Liberation Serif, serif">14</text>
<line x1="225.7" y1="23.56" x2="227.0" y2="23.56" stroke="#cfcfcf" stroke-width="0.5"/>
<text x="222.2" y="25.21" text-anchor="end" font-size="4.8" fill="#636363" font-family="Liberation Serif, serif">16</text>
<line x1="225.7" y1="15.00" x2="227.0" y2="15.00" stroke="#cfcfcf" stroke-width="0.5"/>
<text x="222.2" y="16.65" text-anchor="end" font-size="4.8" fill="#636363" font-family="Liberation Serif, serif">18</text>
<text transform="translate(211.90,48.0) rotate(-90)" text-anchor="middle" font-size="5.0" fill="#636363" font-family="Liberation Serif, serif">Biomass accumulation (t ha<tspan dy="-1.3" font-size="3.2">−1</tspan><tspan dy="1.3">)</tspan></text>
<rect x="232.90" y="33.50" width="4.80" height="58.50" fill="url(#g0)" stroke="#8e8e8e" stroke-width="0.6"/>
<path d="M235.30 35.20V28.80M234.30 28.80h2M234.30 35.20h2" stroke="#6e6e6e" stroke-width="0.4" fill="none"/>
<text x="235.30" y="27.90" text-anchor="middle" font-size="4.4" fill="#4a4c5a" font-family="Liberation Serif, serif">a</text>
<rect x="238.87" y="35.40" width="4.80" height="56.60" fill="url(#g1)" stroke="#585658" stroke-width="0.6"/>
<path d="M241.27 36.30V33.10M240.27 33.10h2M240.27 36.30h2" stroke="#6e6e6e" stroke-width="0.4" fill="none"/>
<text x="241.27" y="32.20" text-anchor="middle" font-size="4.4" fill="#4a4c5a" font-family="Liberation Serif, serif">a</text>
<rect x="244.84" y="32.70" width="4.80" height="59.30" fill="url(#g2)" stroke="#7f9fbe" stroke-width="0.6"/>
<path d="M247.24 34.40V25.70M246.24 25.70h2M246.24 34.40h2" stroke="#6e6e6e" stroke-width="0.4" fill="none"/>
<text x="247.24" y="24.80" text-anchor="middle" font-size="4.4" fill="#4a4c5a" font-family="Liberation Serif, serif">a</text>
<rect x="250.81" y="29.20" width="4.80" height="62.80" fill="url(#g3)" stroke="#1f4c84" stroke-width="0.6"/>
<path d="M253.21 30.82V25.70M252.21 25.70h2M252.21 30.82h2" stroke="#6e6e6e" stroke-width="0.4" fill="none"/>
<text x="253.21" y="24.80" text-anchor="middle" font-size="4.4" fill="#4a4c5a" font-family="Liberation Serif, serif">a</text>
<rect x="256.78" y="35.60" width="4.80" height="56.40" fill="url(#g4)" stroke="#b4aa82" stroke-width="0.6"/>
<path d="M259.18 36.62V33.10M258.18 33.10h2M258.18 36.62h2" stroke="#6e6e6e" stroke-width="0.4" fill="none"/>
<text x="259.18" y="32.20" text-anchor="middle" font-size="4.4" fill="#4a4c5a" font-family="Liberation Serif, serif">a</text>
<rect x="262.75" y="33.20" width="4.80" height="58.80" fill="url(#g5)" stroke="#b99b34" stroke-width="0.6"/>
<path d="M265.15 34.82V29.70M264.15 29.70h2M264.15 34.82h2" stroke="#6e6e6e" stroke-width="0.4" fill="none"/>
<text x="265.15" y="28.80" text-anchor="middle" font-size="4.4" fill="#4a4c5a" font-family="Liberation Serif, serif">a</text>
<rect x="268.72" y="34.60" width="4.80" height="57.40" fill="url(#g6)" stroke="#9bb08f" stroke-width="0.6"/>
<path d="M271.12 36.30V30.80M270.12 30.80h2M270.12 36.30h2" stroke="#6e6e6e" stroke-width="0.4" fill="none"/>
<text x="271.12" y="29.90" text-anchor="middle" font-size="4.4" fill="#4a4c5a" font-family="Liberation Serif, serif">a</text>
<rect x="274.69" y="31.90" width="4.80" height="60.10" fill="url(#g7)" stroke="#6f9957" stroke-width="0.6"/>
<path d="M277.09 33.60V27.40M276.09 27.40h2M276.09 33.60h2" stroke="#6e6e6e" stroke-width="0.4" fill="none"/>
<text x="277.09" y="26.50" text-anchor="middle" font-size="4.4" fill="#4a4c5a" font-family="Liberation Serif, serif">a</text>
<rect x="290.20" y="25.80" width="4.80" height="66.20" fill="url(#g0)" stroke="#8e8e8e" stroke-width="0.6"/>
<path d="M292.60 27.50V19.00M291.60 19.00h2M291.60 27.50h2" stroke="#6e6e6e" stroke-width="0.4" fill="none"/>
<text x="292.60" y="18.10" text-anchor="middle" font-size="4.4" fill="#4a4c5a" font-family="Liberation Serif, serif">a</text>
<rect x="296.17" y="28.40" width="4.80" height="63.60" fill="url(#g1)" stroke="#585658" stroke-width="0.6"/>
<path d="M298.57 29.66V25.50M297.57 25.50h2M297.57 29.66h2" stroke="#6e6e6e" stroke-width="0.4" fill="none"/>
<text x="298.57" y="24.60" text-anchor="middle" font-size="4.4" fill="#4a4c5a" font-family="Liberation Serif, serif">ab</text>
<rect x="302.14" y="29.20" width="4.80" height="62.80" fill="url(#g2)" stroke="#7f9fbe" stroke-width="0.6"/>
<path d="M304.54 30.90V25.20M303.54 25.20h2M303.54 30.90h2" stroke="#6e6e6e" stroke-width="0.4" fill="none"/>
<text x="304.54" y="24.30" text-anchor="middle" font-size="4.4" fill="#4a4c5a" font-family="Liberation Serif, serif">ab</text>
<rect x="308.11" y="27.40" width="4.80" height="64.60" fill="url(#g3)" stroke="#1f4c84" stroke-width="0.6"/>
<path d="M310.51 29.10V22.50M309.51 22.50h2M309.51 29.10h2" stroke="#6e6e6e" stroke-width="0.4" fill="none"/>
<text x="310.51" y="21.60" text-anchor="middle" font-size="4.4" fill="#4a4c5a" font-family="Liberation Serif, serif">ab</text>
<rect x="314.08" y="33.20" width="4.80" height="58.80" fill="url(#g4)" stroke="#b4aa82" stroke-width="0.6"/>
<path d="M316.48 34.90V28.40M315.48 28.40h2M315.48 34.90h2" stroke="#6e6e6e" stroke-width="0.4" fill="none"/>
<text x="316.48" y="27.50" text-anchor="middle" font-size="4.4" fill="#4a4c5a" font-family="Liberation Serif, serif">ab</text>
<rect x="320.05" y="27.40" width="4.80" height="64.60" fill="url(#g5)" stroke="#b99b34" stroke-width="0.6"/>
<path d="M322.45 29.10V22.80M321.45 22.80h2M321.45 29.10h2" stroke="#6e6e6e" stroke-width="0.4" fill="none"/>
<text x="322.45" y="21.90" text-anchor="middle" font-size="4.4" fill="#4a4c5a" font-family="Liberation Serif, serif">ab</text>
<rect x="326.02" y="35.60" width="4.80" height="56.40" fill="url(#g6)" stroke="#9bb08f" stroke-width="0.6"/>
<path d="M328.42 37.16V32.20M327.42 32.20h2M327.42 37.16h2" stroke="#6e6e6e" stroke-width="0.4" fill="none"/>
<text x="328.42" y="31.30" text-anchor="middle" font-size="4.4" fill="#4a4c5a" font-family="Liberation Serif, serif">b</text>
<rect x="331.99" y="28.70" width="4.80" height="63.30" fill="url(#g7)" stroke="#6f9957" stroke-width="0.6"/>
<path d="M334.39 30.32V25.20M333.39 25.20h2M333.39 30.32h2" stroke="#6e6e6e" stroke-width="0.4" fill="none"/>
<text x="334.39" y="24.30" text-anchor="middle" font-size="4.4" fill="#4a4c5a" font-family="Liberation Serif, serif">ab</text>
<rect x="347.50" y="32.70" width="4.80" height="59.30" fill="url(#g0)" stroke="#8e8e8e" stroke-width="0.6"/>
<path d="M349.90 33.90V29.90M348.90 29.90h2M348.90 33.90h2" stroke="#6e6e6e" stroke-width="0.4" fill="none"/>
<text x="349.90" y="29.00" text-anchor="middle" font-size="4.4" fill="#4a4c5a" font-family="Liberation Serif, serif">a</text>
<rect x="353.47" y="24.40" width="4.80" height="67.60" fill="url(#g1)" stroke="#585658" stroke-width="0.6"/>
<path d="M355.87 25.30V22.10M354.87 22.10h2M354.87 25.30h2" stroke="#6e6e6e" stroke-width="0.4" fill="none"/>
<text x="355.87" y="21.20" text-anchor="middle" font-size="4.4" fill="#4a4c5a" font-family="Liberation Serif, serif">a</text>
<rect x="359.44" y="32.70" width="4.80" height="59.30" fill="url(#g2)" stroke="#7f9fbe" stroke-width="0.6"/>
<path d="M361.84 34.14V29.50M360.84 29.50h2M360.84 34.14h2" stroke="#6e6e6e" stroke-width="0.4" fill="none"/>
<text x="361.84" y="28.60" text-anchor="middle" font-size="4.4" fill="#4a4c5a" font-family="Liberation Serif, serif">a</text>
<rect x="365.41" y="30.60" width="4.80" height="61.40" fill="url(#g3)" stroke="#1f4c84" stroke-width="0.6"/>
<path d="M367.81 32.30V24.10M366.81 24.10h2M366.81 32.30h2" stroke="#6e6e6e" stroke-width="0.4" fill="none"/>
<text x="367.81" y="23.20" text-anchor="middle" font-size="4.4" fill="#4a4c5a" font-family="Liberation Serif, serif">a</text>
<rect x="371.38" y="28.70" width="4.80" height="63.30" fill="url(#g4)" stroke="#b4aa82" stroke-width="0.6"/>
<path d="M373.78 30.40V23.20M372.78 23.20h2M372.78 30.40h2" stroke="#6e6e6e" stroke-width="0.4" fill="none"/>
<text x="373.78" y="22.30" text-anchor="middle" font-size="4.4" fill="#4a4c5a" font-family="Liberation Serif, serif">a</text>
<rect x="377.35" y="26.60" width="4.80" height="65.40" fill="url(#g5)" stroke="#b99b34" stroke-width="0.6"/>
<path d="M379.75 26.78V25.50M378.75 25.50h2M378.75 26.78h2" stroke="#6e6e6e" stroke-width="0.4" fill="none"/>
<text x="379.75" y="24.60" text-anchor="middle" font-size="4.4" fill="#4a4c5a" font-family="Liberation Serif, serif">a</text>
<rect x="383.32" y="31.60" width="4.80" height="60.40" fill="url(#g6)" stroke="#9bb08f" stroke-width="0.6"/>
<path d="M385.72 32.92V28.60M384.72 28.60h2M384.72 32.92h2" stroke="#6e6e6e" stroke-width="0.4" fill="none"/>
<text x="385.72" y="27.70" text-anchor="middle" font-size="4.4" fill="#4a4c5a" font-family="Liberation Serif, serif">a</text>
<rect x="389.29" y="25.00" width="4.80" height="67.00" fill="url(#g7)" stroke="#6f9957" stroke-width="0.6"/>
<path d="M391.69 26.70V17.00M390.69 17.00h2M390.69 26.70h2" stroke="#6e6e6e" stroke-width="0.4" fill="none"/>
<text x="391.69" y="16.10" text-anchor="middle" font-size="4.4" fill="#4a4c5a" font-family="Liberation Serif, serif">a</text>
<text x="229.4" y="20.0" font-size="5.3" font-style="italic" fill="#2a2a2a" stroke="#2a2a2a" stroke-width="0.12" font-family="Liberation Serif, serif">Jinan</text>
<text x="252.8" y="18.9" text-anchor="middle" font-size="5.5" fill="#2a2a2a" stroke="#2a2a2a" stroke-width="0.1" font-family="Liberation Serif, serif">B</text>
<text x="311.3" y="17.0" text-anchor="middle" font-size="5.5" fill="#2a2a2a" stroke="#2a2a2a" stroke-width="0.1" font-family="Liberation Serif, serif">A</text>
<text x="368.5" y="18.1" text-anchor="middle" font-size="5.5" fill="#2a2a2a" stroke="#2a2a2a" stroke-width="0.1" font-family="Liberation Serif, serif">A</text>
<text x="205.9" y="12.9" font-size="8.5" font-weight="bold" fill="#111" font-family="Liberation Sans, sans-serif">D</text>
<line x1="227.0" y1="97.8" x2="227.0" y2="174.8" stroke="#d9d9d9" stroke-width="0.5"/>
<line x1="227.0" y1="175.0" x2="399.0" y2="175.0" stroke="#d4d4d4" stroke-width="0.6"/>
<line x1="227.00" y1="174.8" x2="227.00" y2="176.20000000000002" stroke="#d4d4d4" stroke-width="0.5"/>
<line x1="284.33" y1="174.8" x2="284.33" y2="176.20000000000002" stroke="#d4d4d4" stroke-width="0.5"/>
<line x1="341.67" y1="174.8" x2="341.67" y2="176.20000000000002" stroke="#d4d4d4" stroke-width="0.5"/>
<line x1="399.00" y1="174.8" x2="399.00" y2="176.20000000000002" stroke="#d4d4d4" stroke-width="0.5"/>
<line x1="225.7" y1="174.80" x2="227.0" y2="174.80" stroke="#cfcfcf" stroke-width="0.5"/>
<text x="222.2" y="176.45" text-anchor="end" font-size="4.8" fill="#636363" font-family="Liberation Serif, serif">0</text>
<line x1="225.7" y1="167.10" x2="227.0" y2="167.10" stroke="#cfcfcf" stroke-width="0.5"/>
<text x="222.2" y="168.75" text-anchor="end" font-size="4.8" fill="#636363" font-family="Liberation Serif, serif">2</text>
<line x1="225.7" y1="159.40" x2="227.0" y2="159.40" stroke="#cfcfcf" stroke-width="0.5"/>
<text x="222.2" y="161.05" text-anchor="end" font-size="4.8" fill="#636363" font-family="Liberation Serif, serif">4</text>
<line x1="225.7" y1="151.70" x2="227.0" y2="151.70" stroke="#cfcfcf" stroke-width="0.5"/>
<text x="222.2" y="153.35" text-anchor="end" font-size="4.8" fill="#636363" font-family="Liberation Serif, serif">6</text>
<line x1="225.7" y1="144.00" x2="227.0" y2="144.00" stroke="#cfcfcf" stroke-width="0.5"/>
<text x="222.2" y="145.65" text-anchor="end" font-size="4.8" fill="#636363" font-family="Liberation Serif, serif">8</text>
<line x1="225.7" y1="136.30" x2="227.0" y2="136.30" stroke="#cfcfcf" stroke-width="0.5"/>
<text x="222.2" y="137.95" text-anchor="end" font-size="4.8" fill="#636363" font-family="Liberation Serif, serif">10</text>
<line x1="225.7" y1="128.60" x2="227.0" y2="128.60" stroke="#cfcfcf" stroke-width="0.5"/>
<text x="222.2" y="130.25" text-anchor="end" font-size="4.8" fill="#636363" font-family="Liberation Serif, serif">12</text>
<line x1="225.7" y1="120.90" x2="227.0" y2="120.90" stroke="#cfcfcf" stroke-width="0.5"/>
<text x="222.2" y="122.55" text-anchor="end" font-size="4.8" fill="#636363" font-family="Liberation Serif, serif">14</text>
<line x1="225.7" y1="113.20" x2="227.0" y2="113.20" stroke="#cfcfcf" stroke-width="0.5"/>
<text x="222.2" y="114.85" text-anchor="end" font-size="4.8" fill="#636363" font-family="Liberation Serif, serif">16</text>
<line x1="225.7" y1="105.50" x2="227.0" y2="105.50" stroke="#cfcfcf" stroke-width="0.5"/>
<text x="222.2" y="107.15" text-anchor="end" font-size="4.8" fill="#636363" font-family="Liberation Serif, serif">18</text>
<line x1="225.7" y1="97.80" x2="227.0" y2="97.80" stroke="#cfcfcf" stroke-width="0.5"/>
<text x="222.2" y="99.45" text-anchor="end" font-size="4.8" fill="#636363" font-family="Liberation Serif, serif">20</text>
<text transform="translate(211.70,133.0) rotate(-90)" text-anchor="middle" font-size="5.0" fill="#636363" font-family="Liberation Serif, serif">Biomass accumulation (t ha<tspan dy="-1.3" font-size="3.2">−1</tspan><tspan dy="1.3">)</tspan></text>
<rect x="232.90" y="124.30" width="4.80" height="50.50" fill="url(#g0)" stroke="#8e8e8e" stroke-width="0.6"/>
<path d="M235.30 124.96V122.40M234.30 122.40h2M234.30 124.96h2" stroke="#6e6e6e" stroke-width="0.4" fill="none"/>
<text x="235.30" y="121.50" text-anchor="middle" font-size="4.4" fill="#4a4c5a" font-family="Liberation Serif, serif">a</text>
<rect x="238.87" y="123.50" width="4.80" height="51.30" fill="url(#g1)" stroke="#585658" stroke-width="0.6"/>
<path d="M241.27 124.82V120.50M240.27 120.50h2M240.27 124.82h2" stroke="#6e6e6e" stroke-width="0.4" fill="none"/>
<text x="241.27" y="119.60" text-anchor="middle" font-size="4.4" fill="#4a4c5a" font-family="Liberation Serif, serif">a</text>
<rect x="244.84" y="126.70" width="4.80" height="48.10" fill="url(#g2)" stroke="#7f9fbe" stroke-width="0.6"/>
<path d="M247.24 127.90V123.90M246.24 123.90h2M246.24 127.90h2" stroke="#6e6e6e" stroke-width="0.4" fill="none"/>
<text x="247.24" y="123.00" text-anchor="middle" font-size="4.4" fill="#4a4c5a" font-family="Liberation Serif, serif">a</text>
<rect x="250.81" y="125.60" width="4.80" height="49.20" fill="url(#g3)" stroke="#1f4c84" stroke-width="0.6"/>
<path d="M253.21 126.62V123.10M252.21 123.10h2M252.21 126.62h2" stroke="#6e6e6e" stroke-width="0.4" fill="none"/>
<text x="253.21" y="122.20" text-anchor="middle" font-size="4.4" fill="#4a4c5a" font-family="Liberation Serif, serif">a</text>
<rect x="256.78" y="121.60" width="4.80" height="53.20" fill="url(#g4)" stroke="#b4aa82" stroke-width="0.6"/>
<path d="M259.18 123.30V115.70M258.18 115.70h2M258.18 123.30h2" stroke="#6e6e6e" stroke-width="0.4" fill="none"/>
<text x="259.18" y="114.80" text-anchor="middle" font-size="4.4" fill="#4a4c5a" font-family="Liberation Serif, serif">a</text>
<rect x="262.75" y="120.60" width="4.80" height="54.20" fill="url(#g5)" stroke="#b99b34" stroke-width="0.6"/>
<path d="M265.15 121.62V118.10M264.15 118.10h2M264.15 121.62h2" stroke="#6e6e6e" stroke-width="0.4" fill="none"/>
<text x="265.15" y="117.20" text-anchor="middle" font-size="4.4" fill="#4a4c5a" font-family="Liberation Serif, serif">a</text>
<rect x="268.72" y="125.40" width="4.80" height="49.40" fill="url(#g6)" stroke="#9bb08f" stroke-width="0.6"/>
<path d="M271.12 127.10V121.10M270.12 121.10h2M270.12 127.10h2" stroke="#6e6e6e" stroke-width="0.4" fill="none"/>
<text x="271.12" y="120.20" text-anchor="middle" font-size="4.4" fill="#4a4c5a" font-family="Liberation Serif, serif">a</text>
<rect x="274.69" y="127.80" width="4.80" height="47.00" fill="url(#g7)" stroke="#6f9957" stroke-width="0.6"/>
<path d="M277.09 129.50V123.10M276.09 123.10h2M276.09 129.50h2" stroke="#6e6e6e" stroke-width="0.4" fill="none"/>
<text x="277.09" y="122.20" text-anchor="middle" font-size="4.4" fill="#4a4c5a" font-family="Liberation Serif, serif">a</text>
<rect x="290.20" y="122.40" width="4.80" height="52.40" fill="url(#g0)" stroke="#8e8e8e" stroke-width="0.6"/>
<path d="M292.60 123.42V119.90M291.60 119.90h2M291.60 123.42h2" stroke="#6e6e6e" stroke-width="0.4" fill="none"/>
<text x="292.60" y="119.00" text-anchor="middle" font-size="4.4" fill="#4a4c5a" font-family="Liberation Serif, serif">bc</text>
<rect x="296.17" y="126.40" width="4.80" height="48.40" fill="url(#g1)" stroke="#585658" stroke-width="0.6"/>
<path d="M298.57 128.10V121.60M297.57 121.60h2M297.57 128.10h2" stroke="#6e6e6e" stroke-width="0.4" fill="none"/>
<text x="298.57" y="120.70" text-anchor="middle" font-size="4.4" fill="#4a4c5a" font-family="Liberation Serif, serif">c</text>
<rect x="302.14" y="120.30" width="4.80" height="54.50" fill="url(#g2)" stroke="#7f9fbe" stroke-width="0.6"/>
<path d="M304.54 121.50V117.50M303.54 117.50h2M303.54 121.50h2" stroke="#6e6e6e" stroke-width="0.4" fill="none"/>
<text x="304.54" y="116.60" text-anchor="middle" font-size="4.4" fill="#4a4c5a" font-family="Liberation Serif, serif">bc</text>
<rect x="308.11" y="117.10" width="4.80" height="57.70" fill="url(#g3)" stroke="#1f4c84" stroke-width="0.6"/>
<path d="M310.51 118.80V112.40M309.51 112.40h2M309.51 118.80h2" stroke="#6e6e6e" stroke-width="0.4" fill="none"/>
<text x="310.51" y="111.50" text-anchor="middle" font-size="4.4" fill="#4a4c5a" font-family="Liberation Serif, serif">ab</text>
<rect x="314.08" y="124.80" width="4.80" height="50.00" fill="url(#g4)" stroke="#b4aa82" stroke-width="0.6"/>
<path d="M316.48 126.24V121.60M315.48 121.60h2M315.48 126.24h2" stroke="#6e6e6e" stroke-width="0.4" fill="none"/>
<text x="316.48" y="120.70" text-anchor="middle" font-size="4.4" fill="#4a4c5a" font-family="Liberation Serif, serif">bc</text>
<rect x="320.05" y="121.10" width="4.80" height="53.70" fill="url(#g5)" stroke="#b99b34" stroke-width="0.6"/>
<path d="M322.45 122.80V117.10M321.45 117.10h2M321.45 122.80h2" stroke="#6e6e6e" stroke-width="0.4" fill="none"/>
<text x="322.45" y="116.20" text-anchor="middle" font-size="4.4" fill="#4a4c5a" font-family="Liberation Serif, serif">bc</text>
<rect x="326.02" y="123.50" width="4.80" height="51.30" fill="url(#g6)" stroke="#9bb08f" stroke-width="0.6"/>
<path d="M328.42 125.20V119.10M327.42 119.10h2M327.42 125.20h2" stroke="#6e6e6e" stroke-width="0.4" fill="none"/>
<text x="328.42" y="118.20" text-anchor="middle" font-size="4.4" fill="#4a4c5a" font-family="Liberation Serif, serif">bc</text>
<rect x="331.99" y="112.30" width="4.80" height="62.50" fill="url(#g7)" stroke="#6f9957" stroke-width="0.6"/>
<path d="M334.39 113.98V108.70M333.39 108.70h2M333.39 113.98h2" stroke="#6e6e6e" stroke-width="0.4" fill="none"/>
<text x="334.39" y="107.80" text-anchor="middle" font-size="4.4" fill="#4a4c5a" font-family="Liberation Serif, serif">a</text>
<rect x="347.50" y="114.70" width="4.80" height="60.10" fill="url(#g0)" stroke="#8e8e8e" stroke-width="0.6"/>
<path d="M349.90 115.72V112.20M348.90 112.20h2M348.90 115.72h2" stroke="#6e6e6e" stroke-width="0.4" fill="none"/>
<text x="349.90" y="111.30" text-anchor="middle" font-size="4.4" fill="#4a4c5a" font-family="Liberation Serif, serif">a</text>
<rect x="353.47" y="117.10" width="4.80" height="57.70" fill="url(#g1)" stroke="#585658" stroke-width="0.6"/>
<path d="M355.87 118.80V113.10M354.87 113.10h2M354.87 118.80h2" stroke="#6e6e6e" stroke-width="0.4" fill="none"/>
<text x="355.87" y="112.20" text-anchor="middle" font-size="4.4" fill="#4a4c5a" font-family="Liberation Serif, serif">a</text>
<rect x="359.44" y="111.50" width="4.80" height="63.30" fill="url(#g2)" stroke="#7f9fbe" stroke-width="0.6"/>
<path d="M361.84 113.20V106.50M360.84 106.50h2M360.84 113.20h2" stroke="#6e6e6e" stroke-width="0.4" fill="none"/>
<text x="361.84" y="105.60" text-anchor="middle" font-size="4.4" fill="#4a4c5a" font-family="Liberation Serif, serif">a</text>
<rect x="365.41" y="117.60" width="4.80" height="57.20" fill="url(#g3)" stroke="#1f4c84" stroke-width="0.6"/>
<path d="M367.81 119.30V113.90M366.81 113.90h2M366.81 119.30h2" stroke="#6e6e6e" stroke-width="0.4" fill="none"/>
<text x="367.81" y="113.00" text-anchor="middle" font-size="4.4" fill="#4a4c5a" font-family="Liberation Serif, serif">a</text>
<rect x="371.38" y="116.30" width="4.80" height="58.50" fill="url(#g4)" stroke="#b4aa82" stroke-width="0.6"/>
<path d="M373.78 116.54V115.10M372.78 115.10h2M372.78 116.54h2" stroke="#6e6e6e" stroke-width="0.4" fill="none"/>
<text x="373.78" y="114.20" text-anchor="middle" font-size="4.4" fill="#4a4c5a" font-family="Liberation Serif, serif">a</text>
<rect x="377.35" y="119.00" width="4.80" height="55.80" fill="url(#g5)" stroke="#b99b34" stroke-width="0.6"/>
<path d="M379.75 120.70V113.50M378.75 113.50h2M378.75 120.70h2" stroke="#6e6e6e" stroke-width="0.4" fill="none"/>
<text x="379.75" y="112.60" text-anchor="middle" font-size="4.4" fill="#4a4c5a" font-family="Liberation Serif, serif">a</text>
<rect x="383.32" y="115.20" width="4.80" height="59.60" fill="url(#g6)" stroke="#9bb08f" stroke-width="0.6"/>
<path d="M385.72 116.52V112.20M384.72 112.20h2M384.72 116.52h2" stroke="#6e6e6e" stroke-width="0.4" fill="none"/>
<text x="385.72" y="111.30" text-anchor="middle" font-size="4.4" fill="#4a4c5a" font-family="Liberation Serif, serif">a</text>
<rect x="389.29" y="117.10" width="4.80" height="57.70" fill="url(#g7)" stroke="#6f9957" stroke-width="0.6"/>
<path d="M391.69 118.80V112.40M390.69 112.40h2M390.69 118.80h2" stroke="#6e6e6e" stroke-width="0.4" fill="none"/>
<text x="391.69" y="111.50" text-anchor="middle" font-size="4.4" fill="#4a4c5a" font-family="Liberation Serif, serif">a</text>
<text x="229.4" y="102.6" font-size="5.3" font-style="italic" fill="#2a2a2a" stroke="#2a2a2a" stroke-width="0.12" font-family="Liberation Serif, serif">Zibo</text>
<text x="253.3" y="103.0" text-anchor="middle" font-size="5.5" fill="#2a2a2a" stroke="#2a2a2a" stroke-width="0.1" font-family="Liberation Serif, serif">C</text>
<text x="312.9" y="103.0" text-anchor="middle" font-size="5.5" fill="#2a2a2a" stroke="#2a2a2a" stroke-width="0.1" font-family="Liberation Serif, serif">B</text>
<text x="369.6" y="100.6" text-anchor="middle" font-size="5.5" fill="#2a2a2a" stroke="#2a2a2a" stroke-width="0.1" font-family="Liberation Serif, serif">A</text>
<text x="206.3" y="101.6" font-size="8.5" font-weight="bold" fill="#111" font-family="Liberation Sans, sans-serif">E</text>
<line x1="227.0" y1="183.3" x2="227.0" y2="265.6" stroke="#d9d9d9" stroke-width="0.5"/>
<line x1="227.0" y1="265.8" x2="399.0" y2="265.8" stroke="#d4d4d4" stroke-width="0.6"/>
<line x1="227.00" y1="265.6" x2="227.00" y2="267.0" stroke="#d4d4d4" stroke-width="0.5"/>
<line x1="284.33" y1="265.6" x2="284.33" y2="267.0" stroke="#d4d4d4" stroke-width="0.5"/>
<line x1="341.67" y1="265.6" x2="341.67" y2="267.0" stroke="#d4d4d4" stroke-width="0.5"/>
<line x1="399.00" y1="265.6" x2="399.00" y2="267.0" stroke="#d4d4d4" stroke-width="0.5"/>
<line x1="225.7" y1="265.60" x2="227.0" y2="265.60" stroke="#cfcfcf" stroke-width="0.5"/>
<text x="222.2" y="267.25" text-anchor="end" font-size="4.8" fill="#636363" font-family="Liberation Serif, serif">0</text>
<line x1="225.7" y1="255.31" x2="227.0" y2="255.31" stroke="#cfcfcf" stroke-width="0.5"/>
<text x="222.2" y="256.96" text-anchor="end" font-size="4.8" fill="#636363" font-family="Liberation Serif, serif">2</text>
<line x1="225.7" y1="245.03" x2="227.0" y2="245.03" stroke="#cfcfcf" stroke-width="0.5"/>
<text x="222.2" y="246.68" text-anchor="end" font-size="4.8" fill="#636363" font-family="Liberation Serif, serif">4</text>
<line x1="225.7" y1="234.74" x2="227.0" y2="234.74" stroke="#cfcfcf" stroke-width="0.5"/>
<text x="222.2" y="236.39" text-anchor="end" font-size="4.8" fill="#636363" font-family="Liberation Serif, serif">6</text>
<line x1="225.7" y1="224.45" x2="227.0" y2="224.45" stroke="#cfcfcf" stroke-width="0.5"/>
<text x="222.2" y="226.10" text-anchor="end" font-size="4.8" fill="#636363" font-family="Liberation Serif, serif">8</text>
<line x1="225.7" y1="214.16" x2="227.0" y2="214.16" stroke="#cfcfcf" stroke-width="0.5"/>
<text x="222.2" y="215.81" text-anchor="end" font-size="4.8" fill="#636363" font-family="Liberation Serif, serif">10</text>
<line x1="225.7" y1="203.88" x2="227.0" y2="203.88" stroke="#cfcfcf" stroke-width="0.5"/>
<text x="222.2" y="205.53" text-anchor="end" font-size="4.8" fill="#636363" font-family="Liberation Serif, serif">12</text>
<line x1="225.7" y1="193.59" x2="227.0" y2="193.59" stroke="#cfcfcf" stroke-width="0.5"/>
<text x="222.2" y="195.24" text-anchor="end" font-size="4.8" fill="#636363" font-family="Liberation Serif, serif">14</text>
<line x1="225.7" y1="183.30" x2="227.0" y2="183.30" stroke="#cfcfcf" stroke-width="0.5"/>
<text x="222.2" y="184.95" text-anchor="end" font-size="4.8" fill="#636363" font-family="Liberation Serif, serif">16</text>
<text transform="translate(211.40,223.8) rotate(-90)" text-anchor="middle" font-size="5.0" fill="#636363" font-family="Liberation Serif, serif">Biomass accumulation (t ha<tspan dy="-1.3" font-size="3.2">−1</tspan><tspan dy="1.3">)</tspan></text>
<rect x="232.90" y="213.50" width="4.80" height="52.10" fill="url(#g0)" stroke="#8e8e8e" stroke-width="0.6"/>
<path d="M235.30 215.20V207.50M234.30 207.50h2M234.30 215.20h2" stroke="#6e6e6e" stroke-width="0.4" fill="none"/>
<text x="235.30" y="206.60" text-anchor="middle" font-size="4.4" fill="#4a4c5a" font-family="Liberation Serif, serif">a</text>
<rect x="238.87" y="212.40" width="4.80" height="53.20" fill="url(#g1)" stroke="#585658" stroke-width="0.6"/>
<path d="M241.27 214.10V208.40M240.27 208.40h2M240.27 214.10h2" stroke="#6e6e6e" stroke-width="0.4" fill="none"/>
<text x="241.27" y="207.50" text-anchor="middle" font-size="4.4" fill="#4a4c5a" font-family="Liberation Serif, serif">a</text>
<rect x="244.84" y="209.50" width="4.80" height="56.10" fill="url(#g2)" stroke="#7f9fbe" stroke-width="0.6"/>
<path d="M247.24 211.20V201.40M246.24 201.40h2M246.24 211.20h2" stroke="#6e6e6e" stroke-width="0.4" fill="none"/>
<text x="247.24" y="200.50" text-anchor="middle" font-size="4.4" fill="#4a4c5a" font-family="Liberation Serif, serif">a</text>
<rect x="250.81" y="218.80" width="4.80" height="46.80" fill="url(#g3)" stroke="#1f4c84" stroke-width="0.6"/>
<path d="M253.21 220.24V215.60M252.21 215.60h2M252.21 220.24h2" stroke="#6e6e6e" stroke-width="0.4" fill="none"/>
<text x="253.21" y="214.70" text-anchor="middle" font-size="4.4" fill="#4a4c5a" font-family="Liberation Serif, serif">b</text>
<rect x="256.78" y="210.30" width="4.80" height="55.30" fill="url(#g4)" stroke="#b4aa82" stroke-width="0.6"/>
<path d="M259.18 212.00V204.80M258.18 204.80h2M258.18 212.00h2" stroke="#6e6e6e" stroke-width="0.4" fill="none"/>
<text x="259.18" y="203.90" text-anchor="middle" font-size="4.4" fill="#4a4c5a" font-family="Liberation Serif, serif">a</text>
<rect x="262.75" y="214.30" width="4.80" height="51.30" fill="url(#g5)" stroke="#b99b34" stroke-width="0.6"/>
<path d="M265.15 216.00V209.90M264.15 209.90h2M264.15 216.00h2" stroke="#6e6e6e" stroke-width="0.4" fill="none"/>
<text x="265.15" y="209.00" text-anchor="middle" font-size="4.4" fill="#4a4c5a" font-family="Liberation Serif, serif">a</text>
<rect x="268.72" y="211.60" width="4.80" height="54.00" fill="url(#g6)" stroke="#9bb08f" stroke-width="0.6"/>
<path d="M271.12 212.80V208.80M270.12 208.80h2M270.12 212.80h2" stroke="#6e6e6e" stroke-width="0.4" fill="none"/>
<text x="271.12" y="207.90" text-anchor="middle" font-size="4.4" fill="#4a4c5a" font-family="Liberation Serif, serif">a</text>
<rect x="274.69" y="212.70" width="4.80" height="52.90" fill="url(#g7)" stroke="#6f9957" stroke-width="0.6"/>
<path d="M277.09 214.40V208.80M276.09 208.80h2M276.09 214.40h2" stroke="#6e6e6e" stroke-width="0.4" fill="none"/>
<text x="277.09" y="207.90" text-anchor="middle" font-size="4.4" fill="#4a4c5a" font-family="Liberation Serif, serif">a</text>
<rect x="290.20" y="209.50" width="4.80" height="56.10" fill="url(#g0)" stroke="#8e8e8e" stroke-width="0.6"/>
<path d="M292.60 211.20V204.90M291.60 204.90h2M291.60 211.20h2" stroke="#6e6e6e" stroke-width="0.4" fill="none"/>
<text x="292.60" y="204.00" text-anchor="middle" font-size="4.4" fill="#4a4c5a" font-family="Liberation Serif, serif">a</text>
<rect x="296.17" y="209.50" width="4.80" height="56.10" fill="url(#g1)" stroke="#585658" stroke-width="0.6"/>
<path d="M298.57 211.18V205.90M297.57 205.90h2M297.57 211.18h2" stroke="#6e6e6e" stroke-width="0.4" fill="none"/>
<text x="298.57" y="205.00" text-anchor="middle" font-size="4.4" fill="#4a4c5a" font-family="Liberation Serif, serif">a</text>
<rect x="302.14" y="207.60" width="4.80" height="58.00" fill="url(#g2)" stroke="#7f9fbe" stroke-width="0.6"/>
<path d="M304.54 209.30V198.90M303.54 198.90h2M303.54 209.30h2" stroke="#6e6e6e" stroke-width="0.4" fill="none"/>
<text x="304.54" y="198.00" text-anchor="middle" font-size="4.4" fill="#4a4c5a" font-family="Liberation Serif, serif">a</text>
<rect x="308.11" y="195.90" width="4.80" height="69.70" fill="url(#g3)" stroke="#1f4c84" stroke-width="0.6"/>
<path d="M310.51 197.60V189.40M309.51 189.40h2M309.51 197.60h2" stroke="#6e6e6e" stroke-width="0.4" fill="none"/>
<text x="310.51" y="188.50" text-anchor="middle" font-size="4.4" fill="#4a4c5a" font-family="Liberation Serif, serif">a</text>
<rect x="314.08" y="205.80" width="4.80" height="59.80" fill="url(#g4)" stroke="#b4aa82" stroke-width="0.6"/>
<path d="M316.48 207.50V201.60M315.48 201.60h2M315.48 207.50h2" stroke="#6e6e6e" stroke-width="0.4" fill="none"/>
<text x="316.48" y="200.70" text-anchor="middle" font-size="4.4" fill="#4a4c5a" font-family="Liberation Serif, serif">a</text>
<rect x="320.05" y="205.80" width="4.80" height="59.80" fill="url(#g5)" stroke="#b99b34" stroke-width="0.6"/>
<path d="M322.45 206.22V204.30M321.45 204.30h2M321.45 206.22h2" stroke="#6e6e6e" stroke-width="0.4" fill="none"/>
<text x="322.45" y="203.40" text-anchor="middle" font-size="4.4" fill="#4a4c5a" font-family="Liberation Serif, serif">a</text>
<rect x="326.02" y="206.80" width="4.80" height="58.80" fill="url(#g6)" stroke="#9bb08f" stroke-width="0.6"/>
<path d="M328.42 208.50V200.50M327.42 200.50h2M327.42 208.50h2" stroke="#6e6e6e" stroke-width="0.4" fill="none"/>
<text x="328.42" y="199.60" text-anchor="middle" font-size="4.4" fill="#4a4c5a" font-family="Liberation Serif, serif">a</text>
<rect x="331.99" y="205.50" width="4.80" height="60.10" fill="url(#g7)" stroke="#6f9957" stroke-width="0.6"/>
<path d="M334.39 207.20V197.90M333.39 197.90h2M333.39 207.20h2" stroke="#6e6e6e" stroke-width="0.4" fill="none"/>
<text x="334.39" y="197.00" text-anchor="middle" font-size="4.4" fill="#4a4c5a" font-family="Liberation Serif, serif">a</text>
<rect x="347.50" y="208.40" width="4.80" height="57.20" fill="url(#g0)" stroke="#8e8e8e" stroke-width="0.6"/>
<path d="M349.90 210.10V202.80M348.90 202.80h2M348.90 210.10h2" stroke="#6e6e6e" stroke-width="0.4" fill="none"/>
<text x="349.90" y="201.90" text-anchor="middle" font-size="4.4" fill="#4a4c5a" font-family="Liberation Serif, serif">a</text>
<rect x="353.47" y="211.60" width="4.80" height="54.00" fill="url(#g1)" stroke="#585658" stroke-width="0.6"/>
<path d="M355.87 213.30V207.90M354.87 207.90h2M354.87 213.30h2" stroke="#6e6e6e" stroke-width="0.4" fill="none"/>
<text x="355.87" y="207.00" text-anchor="middle" font-size="4.4" fill="#4a4c5a" font-family="Liberation Serif, serif">a</text>
<rect x="359.44" y="207.10" width="4.80" height="58.50" fill="url(#g2)" stroke="#7f9fbe" stroke-width="0.6"/>
<path d="M361.84 208.24V204.40M360.84 204.40h2M360.84 208.24h2" stroke="#6e6e6e" stroke-width="0.4" fill="none"/>
<text x="361.84" y="203.50" text-anchor="middle" font-size="4.4" fill="#4a4c5a" font-family="Liberation Serif, serif">a</text>
<rect x="365.41" y="209.80" width="4.80" height="55.80" fill="url(#g3)" stroke="#1f4c84" stroke-width="0.6"/>
<path d="M367.81 211.50V205.50M366.81 205.50h2M366.81 211.50h2" stroke="#6e6e6e" stroke-width="0.4" fill="none"/>
<text x="367.81" y="204.60" text-anchor="middle" font-size="4.4" fill="#4a4c5a" font-family="Liberation Serif, serif">a</text>
<rect x="371.38" y="211.90" width="4.80" height="53.70" fill="url(#g4)" stroke="#b4aa82" stroke-width="0.6"/>
<path d="M373.78 213.60V205.50M372.78 205.50h2M372.78 213.60h2" stroke="#6e6e6e" stroke-width="0.4" fill="none"/>
<text x="373.78" y="204.60" text-anchor="middle" font-size="4.4" fill="#4a4c5a" font-family="Liberation Serif, serif">a</text>
<rect x="377.35" y="206.80" width="4.80" height="58.80" fill="url(#g5)" stroke="#b99b34" stroke-width="0.6"/>
<path d="M379.75 208.30V203.50M378.75 203.50h2M378.75 208.30h2" stroke="#6e6e6e" stroke-width="0.4" fill="none"/>
<text x="379.75" y="202.60" text-anchor="middle" font-size="4.4" fill="#4a4c5a" font-family="Liberation Serif, serif">a</text>
<rect x="383.32" y="210.80" width="4.80" height="54.80" fill="url(#g6)" stroke="#9bb08f" stroke-width="0.6"/>
<path d="M385.72 212.50V207.10M384.72 207.10h2M384.72 212.50h2" stroke="#6e6e6e" stroke-width="0.4" fill="none"/>
<text x="385.72" y="206.20" text-anchor="middle" font-size="4.4" fill="#4a4c5a" font-family="Liberation Serif, serif">a</text>
<rect x="389.29" y="205.50" width="4.80" height="60.10" fill="url(#g7)" stroke="#6f9957" stroke-width="0.6"/>
<path d="M391.69 207.20V200.40M390.69 200.40h2M390.69 207.20h2" stroke="#6e6e6e" stroke-width="0.4" fill="none"/>
<text x="391.69" y="199.50" text-anchor="middle" font-size="4.4" fill="#4a4c5a" font-family="Liberation Serif, serif">a</text>
<text x="230.0" y="186.3" font-size="5.3" font-style="italic" fill="#2a2a2a" stroke="#2a2a2a" stroke-width="0.12" font-family="Liberation Serif, serif">Linyi</text>
<text x="253.3" y="184.5" text-anchor="middle" font-size="5.5" fill="#2a2a2a" stroke="#2a2a2a" stroke-width="0.1" font-family="Liberation Serif, serif">B</text>
<text x="313.2" y="186.2" text-anchor="middle" font-size="5.5" fill="#2a2a2a" stroke="#2a2a2a" stroke-width="0.1" font-family="Liberation Serif, serif">A</text>
<text x="370" y="184.5" text-anchor="middle" font-size="5.5" fill="#2a2a2a" stroke="#2a2a2a" stroke-width="0.1" font-family="Liberation Serif, serif">AB</text>
<text x="206.3" y="187.2" font-size="8.5" font-weight="bold" fill="#111" font-family="Liberation Sans, sans-serif">F</text>
<rect x="40.20" y="1.10" width="2.6" height="2.6" fill="url(#g0)" stroke="#8e8e8e" stroke-width="0.5"/>
<text x="43.60" y="4.30" font-size="5.25" fill="#636363" font-family="Liberation Serif, serif">Control</text>
<rect x="82.20" y="1.10" width="2.6" height="2.6" fill="url(#g1)" stroke="#585658" stroke-width="0.5"/>
<text x="85.60" y="4.30" font-size="5.25" fill="#636363" font-family="Liberation Serif, serif">U</text>
<rect x="124.20" y="1.10" width="2.6" height="2.6" fill="url(#g2)" stroke="#7f9fbe" stroke-width="0.5"/>
<text x="127.60" y="4.30" font-size="5.25" fill="#636363" font-family="Liberation Serif, serif">U+LZnONPs</text>
<rect x="166.20" y="1.10" width="2.6" height="2.6" fill="url(#g3)" stroke="#1f4c84" stroke-width="0.5"/>
<text x="169.60" y="4.30" font-size="5.25" fill="#636363" font-family="Liberation Serif, serif">U+LZnCNP</text>
<rect x="40.20" y="7.40" width="2.6" height="2.6" fill="url(#g4)" stroke="#b4aa82" stroke-width="0.5"/>
<text x="43.60" y="10.60" font-size="5.25" fill="#636363" font-family="Liberation Serif, serif">U+HZnONPs</text>
<rect x="82.20" y="7.40" width="2.6" height="2.6" fill="url(#g5)" stroke="#b99b34" stroke-width="0.5"/>
<text x="85.60" y="10.60" font-size="5.25" fill="#636363" font-family="Liberation Serif, serif">U+HZnCNP</text>
<rect x="124.20" y="7.40" width="2.6" height="2.6" fill="url(#g6)" stroke="#9bb08f" stroke-width="0.5"/>
<text x="127.60" y="10.60" font-size="5.25" fill="#636363" font-family="Liberation Serif, serif">U+Zn</text>
<rect x="166.20" y="7.40" width="2.6" height="2.6" fill="url(#g7)" stroke="#6f9957" stroke-width="0.5"/>
<text x="169.60" y="10.60" font-size="5.25" fill="#636363" font-family="Liberation Serif, serif">Cocktail</text>
<rect x="244.30" y="1.10" width="2.6" height="2.6" fill="url(#g0)" stroke="#8e8e8e" stroke-width="0.5"/>
<text x="247.70" y="4.30" font-size="5.0" fill="#636363" font-family="Liberation Serif, serif">Control</text>
<rect x="285.10" y="1.10" width="2.6" height="2.6" fill="url(#g1)" stroke="#585658" stroke-width="0.5"/>
<text x="288.50" y="4.30" font-size="5.0" fill="#636363" font-family="Liberation Serif, serif">U</text>
<rect x="324.60" y="1.10" width="2.6" height="2.6" fill="url(#g2)" stroke="#7f9fbe" stroke-width="0.5"/>
<text x="328.00" y="4.30" font-size="5.0" fill="#636363" font-family="Liberation Serif, serif">U+LZnONPs</text>
<rect x="365.30" y="1.10" width="2.6" height="2.6" fill="url(#g3)" stroke="#1f4c84" stroke-width="0.5"/>
<text x="368.70" y="4.30" font-size="5.0" fill="#636363" font-family="Liberation Serif, serif">U+LZnCNP</text>
<rect x="244.30" y="7.40" width="2.6" height="2.6" fill="url(#g4)" stroke="#b4aa82" stroke-width="0.5"/>
<text x="247.70" y="10.60" font-size="5.0" fill="#636363" font-family="Liberation Serif, serif">U+HZnONPs</text>
<rect x="285.10" y="7.40" width="2.6" height="2.6" fill="url(#g5)" stroke="#b99b34" stroke-width="0.5"/>
<text x="288.50" y="10.60" font-size="5.0" fill="#636363" font-family="Liberation Serif, serif">U+HZnCNP</text>
<rect x="324.60" y="7.40" width="2.6" height="2.6" fill="url(#g6)" stroke="#9bb08f" stroke-width="0.5"/>
<text x="328.00" y="10.60" font-size="5.0" fill="#636363" font-family="Liberation Serif, serif">U+Zn</text>
<rect x="365.30" y="7.40" width="2.6" height="2.6" fill="url(#g7)" stroke="#6f9957" stroke-width="0.5"/>
<text x="368.70" y="10.60" font-size="5.0" fill="#636363" font-family="Liberation Serif, serif">Cocktail</text>
<text x="51.8" y="273.6" text-anchor="middle" font-size="5" fill="#636363" font-family="Liberation Serif, serif">ZD958</text>
<text x="111.5" y="273.6" text-anchor="middle" font-size="5" fill="#636363" font-family="Liberation Serif, serif">DH605</text>
<text x="170.2" y="273.6" text-anchor="middle" font-size="5" fill="#636363" font-family="Liberation Serif, serif">LD510</text>
<text x="257.0" y="273.6" text-anchor="middle" font-size="5" fill="#636363" font-family="Liberation Serif, serif">ZD958</text>
<text x="313.8" y="273.6" text-anchor="middle" font-size="5" fill="#636363" font-family="Liberation Serif, serif">DH605</text>
<text x="371.2" y="273.6" text-anchor="middle" font-size="5" fill="#636363" font-family="Liberation Serif, serif">LD510</text>
<text x="108.5" y="282.0" text-anchor="middle" font-size="5" fill="#636363" font-family="Liberation Serif, serif">Maize cultivars</text>
<text x="312.2" y="282.0" text-anchor="middle" font-size="5" fill="#636363" font-family="Liberation Serif, serif">Maize cultivars</text>
</svg>
</body></html>
